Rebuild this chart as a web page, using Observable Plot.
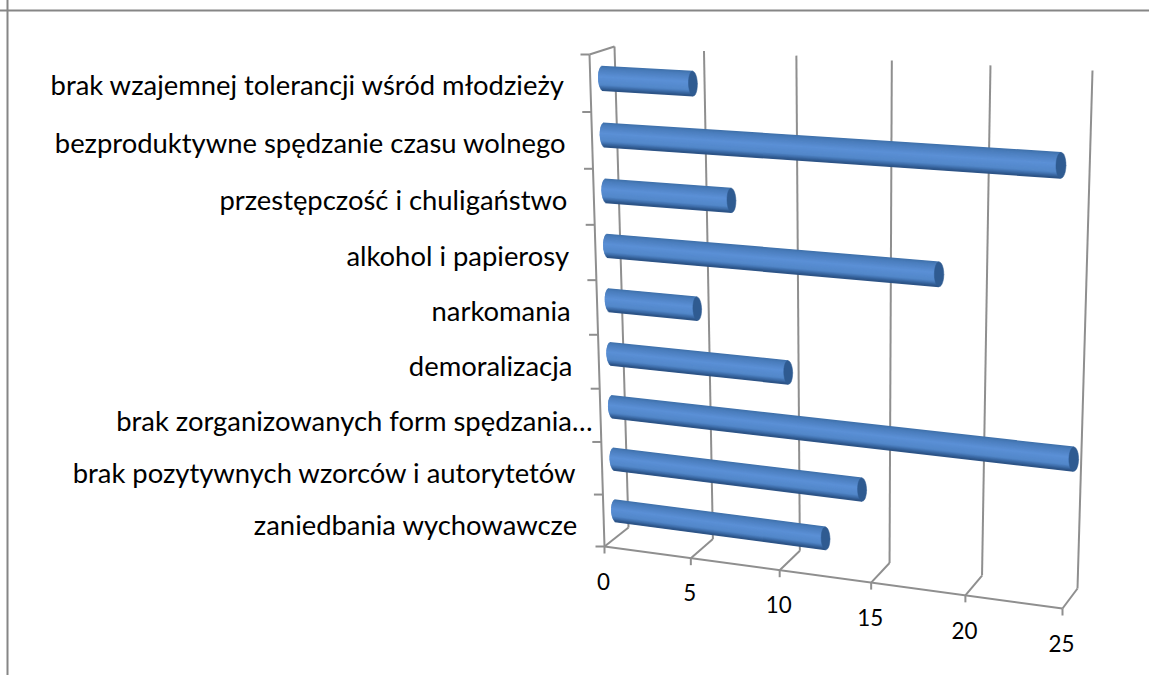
<!DOCTYPE html>
<html lang="pl">
<head>
<meta charset="utf-8">
<script src="https://cdn.jsdelivr.net/npm/d3@7"></script>
<script src="https://cdn.jsdelivr.net/npm/@observablehq/plot@0.6"></script>
<style>html,body{margin:0;padding:0;background:#fff;overflow:hidden}</style>
</head>
<body>
<div id="chart"></div>
<script>
// Data (top row first)
const categories = [
  "brak wzajemnej tolerancji wśród młodzieży",
  "bezproduktywne spędzanie czasu wolnego",
  "przestępczość i chuligaństwo",
  "alkohol i papierosy",
  "narkomania",
  "demoralizacja",
  "brak zorganizowanych form spędzania…",
  "brak pozytywnych wzorców i autorytetów",
  "zaniedbania wychowawcze"
];
const values = [5, 24, 7, 18, 5, 10, 25, 14, 12];
const valueTicks = [0, 5, 10, 15, 20, 25];

// Perspective box of the chart: corners of front and back planes
const vMax = 25, rows = categories.length;
function quad(p) {
  const [[x0,y0],[x1,y1],[x2,y2],[x3,y3]] = p;
  const dx1=x1-x2, dx2=x3-x2, sx=x0-x1+x2-x3, dy1=y1-y2, dy2=y3-y2, sy=y0-y1+y2-y3;
  const den=dx1*dy2-dx2*dy1;
  const g=(sx*dy2-dx2*sy)/den, h=(dx1*sy-sx*dy1)/den;
  const a=x1-x0+g*x1, b=x3-x0+h*x3, d=y1-y0+g*y1, e=y3-y0+h*y3;
  return (u,w)=>{const q=g*u+h*w+1; return [(a*u+b*w+x0)/q,(d*u+e*w+y0)/q];};
}
const front = quad([[589,54],[1075,80],[1062,608],[604,546]]);
const back  = quad([[614,46],[1092,70],[1077,588],[628,527]]);
function P(v, row, depth) {
  const f = front(v/vMax, row/rows), b = back(v/vMax, row/rows);
  return [f[0]+(b[0]-f[0])*depth, f[1]+(b[1]-f[1])*depth];
}
const gridGray = "#8f8f8f", black = "#000";
const seg = (v1,r1,d1,v2,r2,d2) => ({v1,r1,d1,v2,r2,d2});
const segLink = (data, extra={}) => Plot.link(data, {
  x1: s=>P(s.v1,s.r1,s.d1)[0], y1: s=>P(s.v1,s.r1,s.d1)[1],
  x2: s=>P(s.v2,s.r2,s.d2)[0]+(s.ox||0), y2: s=>P(s.v2,s.r2,s.d2)[1]+(s.oy||0),
  stroke: gridGray, strokeWidth: 2, ...extra
});

// box edges
const walls = [
  ...valueTicks.map(v=>seg(v,0,1,v,rows,1)),           // back wall verticals
  ...valueTicks.map(v=>seg(v,rows,0,v,rows,1)),        // floor lines
  seg(0,0,0,0,rows,0),                                  // front category axis
  seg(0,0,0,0,0,1),                                     // top of side wall
  seg(0,rows,0,vMax,rows,0)                             // front value axis
];
const rowTicks = d3.range(rows+1).map(r=>({...seg(0,r,0,0,r,0),ox:-9,oy:0}));
const colTicks = valueTicks.map(v=>({...seg(v,rows,0,v,rows,0),ox:0,oy:7}));

// cylinder shading: bands from top edge to bottom edge
const halfRow = 0.215, bulge = 0.27, nBands = 30;
const rowShift = -0.01;
const shade = d3.scaleLinear().domain([-1,-0.75,-0.1,0.55,0.87,1])
  .range(["#3f70aa","#4a7dbc","#5b90d6","#5287c9","#34619a","#2a4f80"]);
const bands = values.flatMap((v,i)=>d3.range(nBands).map(k=>{
  const t = -1+2*(k+0.5)/nBands;
  return {row:i+0.5+rowShift+t*halfRow, v0:-bulge*Math.sqrt(1-t*t), v, color:shade(t)};
}));
const caps = values.flatMap((v,i)=>d3.range(0,361,15).map(a=>({
  id:i, v:v+bulge*0.9*Math.cos(a*Math.PI/180), row:i+0.5+rowShift+halfRow*Math.sin(a*Math.PI/180)
})));

const labelRows = categories.map((name,i)=>({name,i}));
const labelSize = 27.4, tickSize = 22.4;
const labelY = d => P(0,(d.i+0.5)*1.007,0)[1];
const chart = Plot.plot({
  width:1149, height:675, marginLeft:0, marginRight:0, marginTop:0, marginBottom:0,
  x:{type:"identity",axis:null}, y:{type:"identity",axis:null},
  color:{type:"identity"},
  style:{fontFamily:"Lato, Carlito, sans-serif",background:"#fff",color:"#000"},
  marks:[
    Plot.ruleX([7],{stroke:"#868686",strokeWidth:2}),
    Plot.ruleY([10],{stroke:"#868686",strokeWidth:2}),
    segLink(walls), segLink(rowTicks), segLink(colTicks),
    Plot.link(bands,{
      x1:d=>P(d.v0,d.row,0.5)[0], y1:d=>P(d.v0,d.row,0.5)[1],
      x2:d=>P(d.v,d.row,0.5)[0],  y2:d=>P(d.v,d.row,0.5)[1],
      stroke:d=>d.color, strokeWidth:1.7
    }),
    Plot.line(caps,{x:d=>P(d.v,d.row,0.5)[0], y:d=>P(d.v,d.row,0.5)[1], z:"id",
      fill:"#2f5b91", stroke:"#2f5b91", strokeWidth:0.5, curve:"linear"}),
    Plot.text(labelRows.filter(d=>!d.name.endsWith("…")),{
      x:d=>P(0,d.i+0.5,0)[0], y:labelY, text:"name",
      textAnchor:"end", lineAnchor:"middle", dx:-26.5, dy:3, fontSize:labelSize, fill:black}),
    Plot.text(labelRows.filter(d=>d.name.endsWith("…")),{
      x:d=>P(0,d.i+0.5,0)[0], y:labelY, text:"name",
      textAnchor:"end", lineAnchor:"middle", dx:-8, dy:4, fontSize:labelSize, fill:black}),
    Plot.text(valueTicks,{
      x:v=>P(v,rows,0)[0], y:v=>P(v,rows,0)[1], text:v=>String(v),
      textAnchor:"middle", lineAnchor:"middle", dx:-1, dy:36, fontSize:tickSize, fill:black})
  ]
});
document.getElementById("chart").append(chart);
</script>
</body>
</html>
